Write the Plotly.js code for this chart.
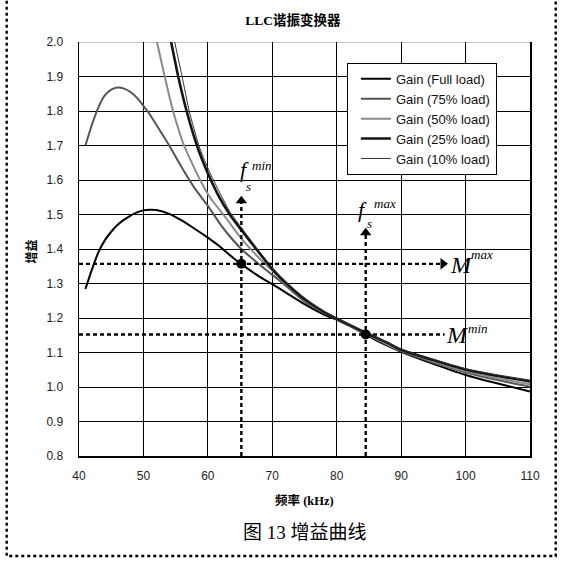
<!DOCTYPE html>
<html>
<head>
<meta charset="utf-8">
<script src="https://cdn.plot.ly/plotly-3.0.1.min.js"></script>
<style>html,body{margin:0;padding:0;background:#fff;}#chart{width:563px;height:565px;}</style>
</head>
<body>
<div id="chart"></div>
<script>
// ---- data ----
const chartTitle = 'LLC谐振变换器';
const xTitle = '频率 (kHz)';
const yTitle = '增益';
const caption = '图 13 增益曲线';
const seriesNames = ['Gain (Full load)', 'Gain (75% load)', 'Gain (50% load)', 'Gain (25% load)', 'Gain (10% load)'];

const freqFull = [41, 42, 43, 44, 45, 46, 47, 48, 49, 50, 51, 52, 54, 56, 58, 60, 62, 64, 65.2, 68, 70, 72, 75, 78, 80, 82, 84.5, 87, 90, 95, 100, 105, 110];
const gainFull = [1.284, 1.34, 1.39, 1.425, 1.45, 1.47, 1.485, 1.497, 1.506, 1.512, 1.514, 1.513, 1.502, 1.482, 1.458, 1.433, 1.405, 1.373, 1.356, 1.32, 1.298, 1.275, 1.24, 1.21, 1.195, 1.177, 1.152, 1.127, 1.102, 1.067, 1.035, 1.01, 0.987];

const freq75 = [41, 42, 43, 44, 45, 46, 47, 48, 49, 50, 51, 52, 54, 56, 58, 60, 62, 63.4, 65.2, 68, 70, 72, 75, 78, 80, 82, 85, 88, 90, 95, 100, 105, 110];
const gain75 = [1.70, 1.76, 1.81, 1.845, 1.862, 1.868, 1.865, 1.855, 1.838, 1.815, 1.79, 1.76, 1.70, 1.635, 1.575, 1.525, 1.47, 1.437, 1.40, 1.355, 1.325, 1.295, 1.248, 1.215, 1.197, 1.178, 1.149, 1.12, 1.104, 1.071, 1.043, 1.02, 1.001];

const freq50 = [52.1, 53.3, 54.6, 56.3, 58.8, 60.5, 62.4, 63.4, 65.2, 68, 70, 72, 75, 78, 80, 82, 85, 88, 90, 95, 100, 105, 110];
const gain50 = [2.0, 1.9, 1.8, 1.7, 1.6, 1.545, 1.5, 1.475, 1.43, 1.373, 1.337, 1.30, 1.253, 1.216, 1.197, 1.179, 1.151, 1.123, 1.106, 1.074, 1.046, 1.025, 1.008];

const freq25 = [54.3, 55.4, 56.7, 58.3, 59.2, 60.1, 61.5, 63.4, 65.2, 67.5, 70, 72.5, 75, 78, 80, 82, 85, 88, 90, 95, 100, 105, 110];
const gain25 = [2.0, 1.9, 1.8, 1.7, 1.655, 1.615, 1.56, 1.50, 1.455, 1.40, 1.342, 1.295, 1.255, 1.218, 1.198, 1.18, 1.153, 1.127, 1.108, 1.078, 1.051, 1.032, 1.016];

const freq10 = [54.85, 56.0, 57.1, 58.6, 59.5, 60.4, 61.8, 63.4, 65.2, 67.5, 70, 72.5, 75, 78, 80, 82, 85, 88, 90, 95, 100, 105, 110];
const gain10 = [2.0, 1.9, 1.8, 1.7, 1.657, 1.618, 1.565, 1.508, 1.462, 1.405, 1.346, 1.298, 1.258, 1.219, 1.198, 1.181, 1.154, 1.128, 1.11, 1.08, 1.053, 1.035, 1.02];

// operating points (fs_min, M_max) and (fs_max, M_min)
const opFreq = [65.2, 84.5];
const opGain = [1.357, 1.152];
const arrowHeadGain = [1.540, 1.447];  // vertical arrow heads
const hLineEnd = [96.5, 96.75];        // right ends of the horizontal dotted lines

const xTicks = [40, 50, 60, 70, 80, 90, 100, 110];
const yTicks = [0.8, 0.9, 1.0, 1.1, 1.2, 1.3, 1.4, 1.5, 1.6, 1.7, 1.8, 1.9, 2.0];
const grayGridX = [50, 100];

// ---- traces ----
const styles = [
  {color: '#000000', width: 2},
  {color: '#555555', width: 2},
  {color: '#8a8a8a', width: 2},
  {color: '#151515', width: 2.6},
  {color: '#333333', width: 1}
];
const xs = [freqFull, freq75, freq50, freq25, freq10];
const ys = [gainFull, gain75, gain50, gain25, gain10];

const traces = [];
for (let i = 0; i < xs.length; i++) {
  traces.push({
    type: 'scatter', mode: 'lines', x: xs[i], y: ys[i], name: seriesNames[i],
    line: {color: styles[i].color, width: styles[i].width, shape: 'spline', smoothing: 0.5}
  });
}
const dotLine = {color: '#000', width: 2.4, dash: '4px,3px'};
for (let i = 0; i < opFreq.length; i++) {
  traces.push({type: 'scatter', mode: 'lines', x: [opFreq[i], opFreq[i]], y: [0.8, arrowHeadGain[i]], line: dotLine, showlegend: false});
  traces.push({type: 'scatter', mode: 'lines', x: [40, hLineEnd[i]], y: [opGain[i], opGain[i]], line: dotLine, showlegend: false});
}
traces.push({type: 'scatter', mode: 'markers', x: opFreq, y: arrowHeadGain, showlegend: false,
  marker: {symbol: 'triangle-up', size: 10, color: '#000'}});
traces.push({type: 'scatter', mode: 'markers', x: [hLineEnd[0]], y: [opGain[0]], showlegend: false,
  marker: {symbol: 'triangle-right', size: 10, color: '#000'}});
traces.push({type: 'scatter', mode: 'markers', x: opFreq, y: opGain, showlegend: false,
  marker: {symbol: 'circle', size: 10, color: '#000'}});

// ---- layout ----
const L = 79.3, R = 530.3, T = 42.3, B = 456, W = 563, H = 565;
const px2paperX = p => (p - L) / (R - L);
const px2paperY = p => (B - p) / (B - T);

const serifItalic = {family: 'Liberation Serif, Times New Roman, serif', color: '#000'};
function lab(x, y, text, size, anchor) {
  return {xref: 'x', yref: 'y', x: x, y: y, text: '<i>' + text + '</i>', font: Object.assign({size: size}, serifItalic),
    showarrow: false, xanchor: anchor || 'center', yanchor: 'middle'};
}
const annotations = [
  lab(65.75, 1.630, 'f', 22),
  lab(66.35, 1.582, 's', 13),
  lab(66.6, 1.642, 'min', 13, 'left'),
  lab(83.95, 1.514, 'f', 22),
  lab(85.1, 1.474, 's', 13),
  lab(85.5, 1.532, 'max', 13, 'left'),
  lab(99.3, 1.355, 'M', 24),
  lab(100.5, 1.383, 'max', 13, 'left'),
  lab(98.8, 1.151, 'M', 24),
  lab(100.1, 1.170, 'min', 13, 'left'),
  {xref: 'paper', yref: 'paper', x: px2paperX(305), y: px2paperY(532), text: caption, showarrow: false,
   xanchor: 'center', yanchor: 'middle',
   font: {family: 'Liberation Serif, Noto Sans CJK SC, serif', size: 19, color: '#000'}},
  {xref: 'paper', yref: 'paper', x: px2paperX(305), y: px2paperY(500), text: '<b>' + xTitle + '</b>', showarrow: false,
   xanchor: 'center', yanchor: 'middle',
   font: {family: 'Liberation Serif, Noto Sans CJK SC, serif', size: 12.5, color: '#000'}},
  {xref: 'paper', yref: 'paper', x: px2paperX(31), y: px2paperY(252), text: '<b>' + yTitle + '</b>', showarrow: false, textangle: -90,
   xanchor: 'center', yanchor: 'middle',
   font: {family: 'Noto Sans CJK SC, sans-serif', size: 12, color: '#000'}}
];

const shapes = [];
grayGridX.forEach(g => shapes.push({type: 'line', xref: 'x', yref: 'y', x0: g, x1: g, y0: 0.8, y1: 2.0, layer: 'below', line: {color: '#8c8c8c', width: 1}}));
shapes.push({type: 'line', xref: 'x', yref: 'y', x0: 40, x1: 110, y0: 2.0, y1: 2.0, layer: 'below', line: {color: '#8c8c8c', width: 1.2}});
shapes.push({type: 'path', xref: 'paper', yref: 'paper', layer: 'above',
  path: 'M ' + px2paperX(7) + ' ' + px2paperY(-5) + ' L ' + px2paperX(7) + ' ' + px2paperY(556) +
        ' L ' + px2paperX(556) + ' ' + px2paperY(556) + ' L ' + px2paperX(556) + ' ' + px2paperY(-5),
  line: {color: '#000', width: 2.4, dash: '3px,3px'}});

const tickFont = {family: 'Liberation Sans, Arial, sans-serif', size: 12, color: '#222'};
const layout = {
  width: W, height: H,
  margin: {l: L, r: W - R, t: T, b: H - B, pad: 0},
  paper_bgcolor: '#fff', plot_bgcolor: '#fff',
  title: {text: '<b>' + chartTitle + '</b>', x: 293 / W, xanchor: 'center', y: 1 - 20.5 / H, yanchor: 'middle',
    font: {family: 'Liberation Serif, Noto Sans CJK SC, serif', size: 13.5, color: '#000'}},
  showlegend: true,
  legend: {x: px2paperX(347), y: px2paperY(63), xanchor: 'left', yanchor: 'top', bgcolor: '#fff',
    bordercolor: '#000', borderwidth: 1.2, font: {family: 'Liberation Sans, Arial, sans-serif', size: 13, color: '#111'},
    itemwidth: 30, indentation: 8, entrywidth: 160, entrywidthmode: 'pixels', tracegroupgap: 0},
  xaxis: {range: [40, 110], tickvals: xTicks, ticktext: xTicks.map(String), showgrid: true, gridcolor: '#000', gridwidth: 1,
    showline: true, linecolor: '#000', linewidth: 1.5, mirror: false, zeroline: false, ticks: '', ticklabelstandoff: 8,
    tickfont: tickFont, fixedrange: true},
  yaxis: {range: [0.8, 2.0], tickvals: yTicks, ticktext: yTicks.map(v => v.toFixed(1)), showgrid: true, gridcolor: '#000', gridwidth: 1,
    showline: true, linecolor: '#000', linewidth: 1.5, mirror: true, zeroline: false, ticks: '', ticklabelstandoff: 12,
    tickfont: tickFont, fixedrange: true},
  annotations: annotations,
  shapes: shapes,
  hovermode: false
};

Plotly.newPlot('chart', traces, layout, {staticPlot: true, displayModeBar: false});
</script>
</body>
</html>
